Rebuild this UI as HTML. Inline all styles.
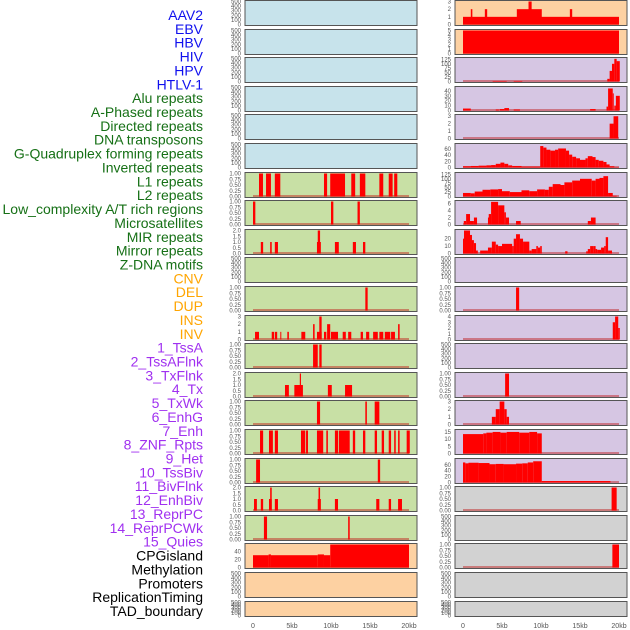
<!DOCTYPE html>
<html><head><meta charset="utf-8"><style>
html,body{margin:0;padding:0;background:#fff;}
svg{display:block;font-family:"Liberation Sans",sans-serif;}
</style></head><body>
<svg id="chart" width="630" height="630" viewBox="0 0 630 630" xmlns="http://www.w3.org/2000/svg"></svg>
<script>
const labelNames = ["AAV2","EBV","HBV","HIV","HPV","HTLV-1","Alu repeats","A-Phased repeats","Directed repeats","DNA transposons","G-Quadruplex forming repeats","Inverted repeats","L1 repeats","L2 repeats","Low_complexity A/T rich regions","Microsatellites","MIR repeats","Mirror repeats","Z-DNA motifs","CNV","DEL","DUP","INS","INV","1_TssA","2_TssAFlnk","3_TxFlnk","4_Tx","5_TxWk","6_EnhG","7_Enh","8_ZNF_Rpts","9_Het","10_TssBiv","11_BivFlnk","12_EnhBiv","13_ReprPC","14_ReprPCWk","15_Quies","CPGisland","Methylation","Promoters","ReplicationTiming","TAD_boundary"];
const labelGroups = [0,0,0,0,0,0,1,1,1,1,1,1,1,1,1,1,1,1,1,2,2,2,2,2,3,3,3,3,3,3,3,3,3,3,3,3,3,3,3,4,4,4,4,4];
const groupColors = ["#1010ee","#167016","#ffa500","#a030f0","#000000"];
const xTicks = [0,5,10,15,20];
const xTickLabels = ["0","5kb","10kb","15kb","20kb"];

const T500=[0,100,200,300,400,500], T1=[0,0.25,0.5,0.75,1], T1L=["0.00","0.25","0.50","0.75","1.00"], T2=[0,0.5,1,1.5,2], T2L=["0.0","0.5","1.0","1.5","2.0"];

// left column bars [startKb, endKb, value]
const barsL7=[[0.77,1.28,1],[1.67,2.3,1],[2.8,3.5,1],[9.1,9.5,1],[9.9,11.8,1],[12.6,13.1,1],[13.7,14.4,1],[16.2,16.7,1],[17.4,17.9,1],[18.1,18.5,1]];
const barsL8=[[0,0.3,1],[10.0,10.3,1],[13.4,13.7,1]];
const barsL9=[[1.0,1.3,1],[2.2,2.4,1],[2.8,3.2,1],[8.2,8.7,1],[8.3,8.6,2],[10.5,11.0,1],[12.8,13.2,1],[14.1,14.4,1]];
const barsL11=[[14.4,14.7,1]];
const barsL12=[[0.26,0.77,1],[2.4,2.7,1],[2.8,3.1,1],[3.5,3.6,1],[4.4,4.6,1],[6.2,6.7,1],[7.7,7.9,2],[8.2,8.8,1],[8.5,8.8,3],[9.1,9.4,1],[9.5,9.9,2],[10.0,10.9,1],[11.5,11.9,1],[12.2,12.6,1],[13.8,14.1,1],[14.5,14.9,1],[15.4,16.0,1],[16.2,16.7,1],[16.9,17.6,1],[17.7,18.2,1],[18.6,18.8,2]];
const barsL13=[[7.7,8.3,1],[8.5,8.8,1]];
const barsL14=[[4.1,4.6,1],[5.3,6.4,1],[6.0,6.15,2],[9.6,10.1,1],[11.8,12.7,1]];
const barsL15=[[8.2,8.6,1],[14.4,14.6,1],[15.6,16.2,1]];
const barsL16=[[0.9,1.3,1],[2.05,2.55,1],[2.8,3.2,1],[6.15,6.7,1],[6.8,7.05,1],[8.2,9.0,1],[9.4,9.6,1],[10.5,10.9,1],[11.0,12.4,1],[12.8,13.1,1],[14.1,14.4,1],[15.6,15.9,1],[16.5,16.8,1],[17.4,17.7,1],[18.1,18.3,1],[18.6,18.8,1],[19.7,20.1,1]];
const barsL17=[[0.4,0.9,1],[16.0,16.3,1]];
const barsL18=[[0.13,0.5,1],[1.0,1.3,1],[2.05,2.4,1],[2.2,2.4,2],[2.8,3.2,1],[8.3,8.7,1],[8.4,8.6,2],[10.5,10.9,1],[15.8,16.2,1],[17.4,17.7,1],[18.6,19.1,1]];
const barsL19=[[1.4,1.8,1],[12.2,12.4,1]];
const barsL20=[[0,2.0,31],[2.0,2.3,33],[2.3,8.3,31],[8.3,9.1,33],[9.1,9.9,31],[9.9,20,58]];

// right column bars
const barsR1=[[0,20,1],[1.0,1.2,2],[2.8,3.1,2],[6.9,10.1,2],[8.4,8.8,3],[13.7,14.0,2]];
const barsR2=[[0,20,5]];
const barsR3=[[3.8,5.6,3],[6.5,7.6,3],[18.5,18.8,15],[18.8,19.1,60],[19.1,19.4,100],[19.4,19.7,128],[19.7,20.1,115]];
const barsR4=[[0,1.0,4],[4.2,4.6,2],[4.7,5.3,3],[5.3,5.9,5],[6.5,7.3,2],[16.3,17.0,3],[18.4,18.6,8],[18.6,19.2,45],[19.2,19.3,35],[19.4,19.6,10],[19.6,20.1,30]];
const barsR5=[[18.8,19.3,2],[19.3,19.9,3]];
const barsR6=[[0,1,4],[1,2,5],[2,3,6],[3,3.6,7],[3.6,4.2,8],[4.2,4.8,12],[4.8,5.3,16],[5.3,5.8,12],[5.8,6.3,7],[6.3,7.5,5],[7.5,9.9,3],[9.9,10.3,70],[10.3,10.7,65],[10.7,11.2,58],[11.2,11.8,55],[11.8,12.2,58],[12.2,13.2,62],[13.2,13.6,55],[13.6,14.0,42],[14.0,14.5,35],[14.5,15.0,30],[15.0,15.7,25],[15.7,16.0,30],[16.0,16.6,37],[16.6,17.0,34],[17.0,17.4,25],[17.4,18.0,22],[18.0,18.4,18],[18.4,18.8,10],[18.8,19.4,4],[19.4,20,1]];
const barsR7=[[0,1,20],[1,1.5,18],[1.5,2.5,28],[2.5,3.5,38],[3.5,4.5,40],[4.5,5,42],[5,6,30],[6,7.5,25],[7.5,8.5,35],[8.5,9.5,30],[9.5,10.5,40],[10.5,11,38],[11,11.5,55],[11.5,12.5,70],[12.5,13,65],[13,14,80],[14,15,90],[15,16.5,100],[16.5,17,90],[17,17.5,100],[17.5,18,105],[18,18.6,115],[18.6,19.2,20],[19.2,19.7,4]];
const barsR8=[[0.1,0.4,1],[0.4,0.9,3],[0.9,1.4,1],[1.4,1.8,2],[3.2,3.6,2],[3.3,3.6,3],[3.6,4.5,6.5],[4.5,5.3,5.5],[5.3,5.5,3.5],[5.5,5.9,2],[6.8,7.4,1],[16.0,16.4,1],[16.4,17.0,2]];
const barsR9=[[0,0.13,20],[0.13,0.9,31],[0.9,1.15,25],[1.15,1.4,18],[1.4,1.67,14],[1.67,1.9,4],[2.2,3.2,4],[3.2,3.7,8],[3.7,4.2,16],[4.2,4.5,12],[4.5,5.0,10],[5.0,6.3,13],[6.3,6.5,10],[6.5,6.8,20],[6.8,7.3,26],[7.3,7.7,20],[7.7,8.5,16],[8.5,8.8,4],[8.8,9.4,6],[9.4,9.6,10],[9.6,9.9,8],[9.9,10.1,10],[13.1,13.4,3],[15.8,16.0,3],[16.0,16.3,6],[16.3,16.7,10],[16.7,17.0,10],[17.0,17.2,6],[17.2,17.7,5],[17.7,18.1,8],[18.1,18.3,10],[18.3,18.6,22],[18.6,19.1,4]];
const barsR11=[[6.8,7.2,1]];
const barsR12=[[19.2,19.5,3],[19.5,19.9,4],[19.9,20.1,2]];
const barsR14=[[5.4,5.9,1]];
const barsR15=[[3.7,4.2,1],[4.2,4.7,2],[4.7,5.3,3],[5.3,5.6,2],[5.6,5.9,1]];
const barsR16=[[0,2.6,13.5],[2.6,3,14],[3,3.8,14.5],[3.8,4.8,15],[4.8,5.6,14.5],[5.6,7.2,15],[7.2,8.5,14.5],[8.5,9.5,15],[9.5,10.1,14]];
const barsR17=[[0,0.3,68],[0.3,0.7,65],[0.7,2.0,67],[2.0,3.4,66],[3.4,4.2,62],[4.2,5.2,63],[5.2,6.8,62],[6.8,7.6,64],[7.6,8.3,65],[8.3,9.0,68],[9.0,10.1,72],[10.1,18.9,5]];
const barsR18=[[19.05,19.7,1]];
const barsR20=[[19.15,20.0,1]];

const BLUE="#c7e3eb", GREEN="#c8e0a5", ORANGE="#fdd1a2", PURPLE="#d6c6e3", GREY="#d2d2d2";
// [bg, ymax, ticks, tickLabels, bars]
const leftPanels=[
 [BLUE,500,T500,null,null],[BLUE,500,T500,null,null],[BLUE,500,T500,null,null],[BLUE,500,T500,null,null],[BLUE,500,T500,null,null],[BLUE,500,T500,null,null],
 [GREEN,1,T1,T1L,barsL7],[GREEN,1,T1,T1L,barsL8],[GREEN,2,T2,T2L,barsL9],[GREEN,500,T500,null,null],[GREEN,1,T1,T1L,barsL11],[GREEN,3,[0,1,2,3],null,barsL12],
 [GREEN,1,T1,T1L,barsL13],[GREEN,2,T2,T2L,barsL14],[GREEN,1,T1,T1L,barsL15],[GREEN,1,T1,T1L,barsL16],[GREEN,1,T1,T1L,barsL17],[GREEN,2,T2,T2L,barsL18],[GREEN,1,T1,T1L,barsL19],
 [ORANGE,58,[0,20,40],null,barsL20],[ORANGE,500,T500,null,null],[ORANGE,500,T500,null,null]];
const rightPanels=[
 [ORANGE,3,[0,1,2,3],null,barsR1],[ORANGE,5,[0,1,2,3,4,5],null,barsR2],
 [PURPLE,130,[0,25,50,75,100,125],null,barsR3],[PURPLE,47,[0,10,20,30,40],null,barsR4],[PURPLE,3.1,[0,1,2,3],null,barsR5],[PURPLE,75,[0,20,40,60],null,barsR6],
 [PURPLE,130,[0,25,50,75,100,125],null,barsR7],[PURPLE,6.6,[0,2,4,6],null,barsR8],[PURPLE,31,[0,10,20],null,barsR9],[PURPLE,500,T500,null,null],
 [PURPLE,1,T1,T1L,barsR11],[PURPLE,4,[0,1,2,3,4],null,barsR12],[PURPLE,500,T500,null,null],[PURPLE,1,T1,T1L,barsR14],[PURPLE,3,[0,1,2,3],null,barsR15],
 [PURPLE,16,[0,5,10,15],null,barsR16],[PURPLE,78,[0,20,40,60],null,barsR17],
 [GREY,1,T1,T1L,barsR18],[GREY,500,T500,null,null],[GREY,1,T1,T1L,barsR20],[GREY,500,T500,null,null],[GREY,500,T500,null,null]];

const NS="http://www.w3.org/2000/svg";
const svg=document.getElementById('chart');
function mk(tag,attrs,parent){const e=document.createElementNS(NS,tag);for(const k in attrs)e.setAttribute(k,attrs[k]);(parent||svg).appendChild(e);return e;}

// labels
labelNames.forEach((n,i)=>{
  const t=mk('text',{x:203,y:20+i*13.86,'text-anchor':'end','font-size':'14',fill:groupColors[labelGroups[i]]});
  
  
  t.textContent=n;
});

const cols=[{x0:245,x1:417,z:253,panels:leftPanels,name:'left'},{x0:455,x1:627,z:463,panels:rightPanels,name:'right'}];
const KB=7.8;
cols.forEach(col=>{
  const xs=kb=>col.z+kb*KB;
  col.panels.forEach((p,i)=>{
    const top=Math.round(i*28.6)+0.5, h=(i===21?15:25);
    const [bg,ymax,ticks,tl,bars]=p;
    const ys=v=>top+h-1-(v/ymax)*(h-2);
    const g=mk('g',{});
    
    
    const r=mk('rect',{x:col.x0,y:top,width:col.x1-col.x0,height:h,fill:bg},g);
    
    
    if(bars){
      const bl=mk('rect',{x:xs(0),y:top+h-2.5,width:20*KB,height:2,fill:'rgba(190,20,20,0.45)'},g);
      
      
      bars.forEach(b=>{
        const y=ys(b[2]);
        const br=mk('rect',{x:xs(b[0]),y:y,width:Math.max(1,xs(b[1])-xs(b[0])),height:ys(0)-y,fill:'#ff0000'},g);
        
        
      });
    }
    const fr=mk('rect',{x:col.x0,y:top,width:col.x1-col.x0,height:h,fill:'none',stroke:'#555','stroke-width':1},g);
    
    
    ticks.forEach((tv,j)=>{
      const tt=mk('text',{x:col.x0-4,y:ys(tv)+2,'text-anchor':'end','font-size':'6',fill:'#555'},g);
      
      
      tt.textContent=tl?tl[j]:String(tv);
    });
  });
  xTicks.forEach((kb,j)=>{
    const t=mk('text',{x:xs(kb),y:628,'text-anchor':'middle','font-size':'7',fill:'#555'});
    
    
    t.textContent=xTickLabels[j];
  });
});
</script>
</body></html>
